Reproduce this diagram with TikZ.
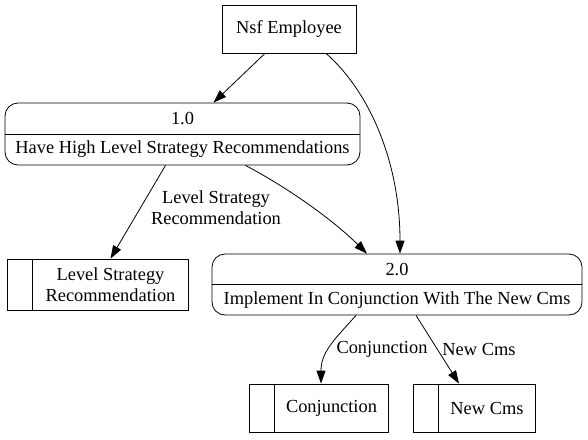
\documentclass[tikz,border=0pt]{standalone}
\usepackage{fontspec}
\setmainfont{Liberation Serif}
\usetikzlibrary{arrows.meta}
\tikzset{
	flow/.style={-{Triangle[length=13pt,width=9pt]}, line width=0.8pt},
	entity/.style={draw, line width=0.8pt, minimum width=134pt, minimum height=48pt, inner sep=0pt},
	process/.style={draw, line width=0.8pt, rounded corners=13pt, inner sep=0pt},
	store/.style={draw, line width=0.8pt, minimum height=48pt, inner sep=0pt},
	txt/.style={font=\fontsize{18.4}{21}\selectfont, align=center, inner sep=1pt}
}
\begin{document}
\begin{tikzpicture}[x=1pt, y=-1pt]
		\useasboundingbox (0,0) rectangle (588,439);
		
		% external entity
		\node[entity, txt] (nsf) at (289,29) {Nsf Employee};
		
		% processes
		\node[process, minimum width=355pt, minimum height=62pt] (p1) at (182.5,134) {};
		\draw[line width=0.8pt] (p1.west) -- (p1.east);
		\node[txt] (p1num) at (182.5,118.5) {1.0};
		\node[txt] (p1name) at (182.5,149.5) {Have High Level Strategy Recommendations};
		
		\node[process, minimum width=370pt, minimum height=61pt] (p2) at (397,284.5) {};
		\draw[line width=0.8pt] (p2.west) -- (p2.east);
		\node[txt] (p2num) at (397,269.5) {2.0};
		\node[txt] (p2name) at (397,300) {Implement In Conjunction With The New Cms};
		
		% data stores
		\node[store, minimum width=181pt, minimum height=51pt] (s1) at (97.5,284.5) {};
		\node[store, minimum width=139pt] (s2) at (318.5,408) {};
		\node[store, minimum width=122pt] (s3) at (474,408) {};
		
		\foreach \s in {s1,s2,s3}
		\draw[line width=0.8pt] ([xshift=26pt]\s.north west) -- ([xshift=26pt]\s.south west);
		
		\node[txt] (s1txt) at (110.5,284.5) {Level Strategy\\Recommendation};
		\node[txt] (s2txt) at (331.5,408) {Conjunction};
		\node[txt] (s3txt) at (487,408) {New Cms};
		
		% flows
		\draw[flow] ([xshift=-24pt]nsf.south) -- ([xshift=31pt]p1.north);
		\draw[flow] ([xshift=37pt]nsf.south) .. controls (368,90) and (400,160) .. ([xshift=3pt]p2.north);
		\draw[flow] ([xshift=-17pt]p1.south) -- ([xshift=13pt]s1.north);
		\draw[flow] ([xshift=63pt]p1.south) .. controls (292,190) and (335,222) .. ([xshift=-30pt]p2.north);
		\draw[flow] ([xshift=-41pt]p2.south) .. controls (334,340) and (321,352) .. ([xshift=2.5pt]s2.north);
		\draw[flow] ([xshift=19pt]p2.south) -- ([xshift=-15pt]s3.north);
		
		% flow labels
		\node[txt] (l1) at (216,208) {Level Strategy\\Recommendation};
		\node[txt] (l2) at (382,349) {Conjunction};
		\node[txt] (l3) at (479,349) {New Cms};
		
\end{tikzpicture}
\end{document}
